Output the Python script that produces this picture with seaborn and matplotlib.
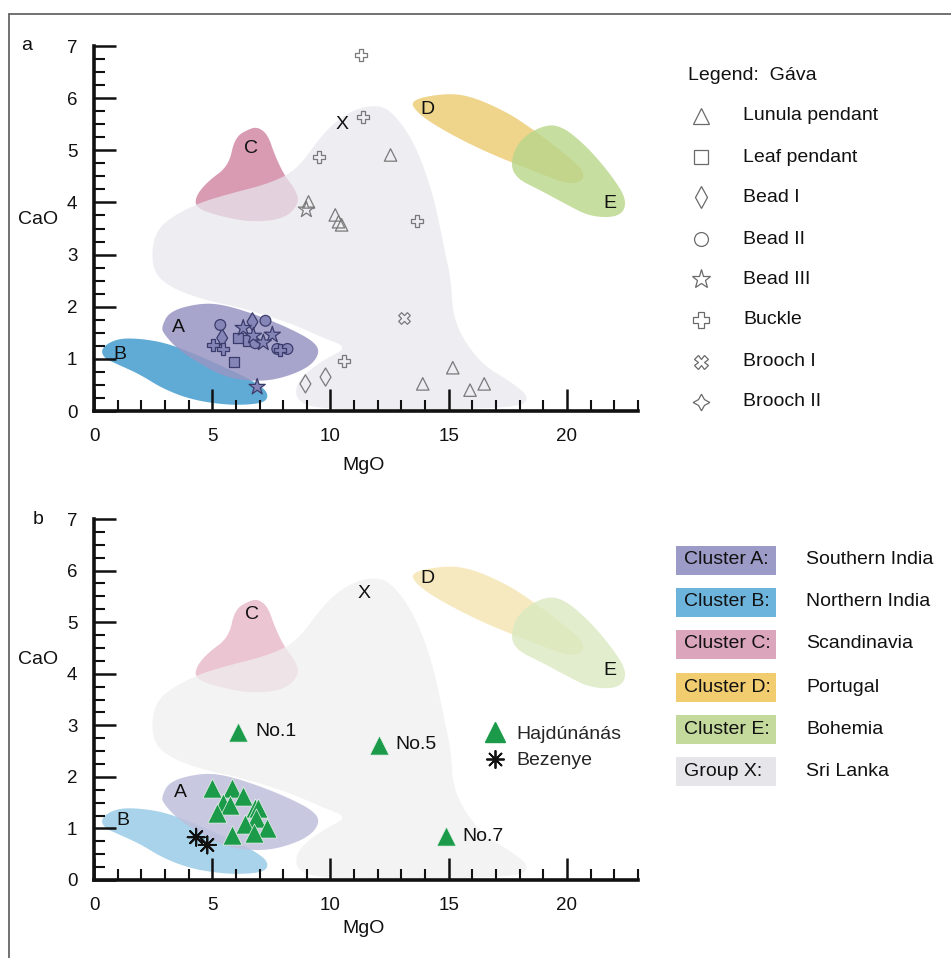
import numpy as np
import pandas as pd
import matplotlib
matplotlib.use("Agg")
import matplotlib.pyplot as plt
import seaborn as sns
from matplotlib.lines import Line2D
from matplotlib.patches import Rectangle
from matplotlib.path import Path
from matplotlib.ticker import MultipleLocator

# ---------------- data ----------------
# region outlines (MgO, CaO)
region_X = [[2.45, 3.0], [2.55, 3.35], [3.0, 3.64], [4.3, 3.97], [5.75, 4.17], [7.4, 4.36], [8.6, 4.63],
            [9.7, 5.34], [10.7, 5.72], [11.7, 5.87], [12.5, 5.8], [13.5, 5.2], [14.3, 4.24], [14.8, 3.15],
            [15.1, 2.5], [15.2, 1.69], [16.3, 0.92], [17.7, 0.54], [18.45, 0.25], [17.9, 0.05],
            [12.0, 0.02], [9.3, 0.05], [8.55, 0.22], [8.55, 0.5], [9.0, 0.75], [9.8, 1.0], [10.75, 1.22],
            [9.6, 1.42], [8.5, 1.65], [6.5, 1.95], [4.5, 2.15], [3.2, 2.38], [2.55, 2.65]]
region_A = [[2.85, 1.61], [3.2, 1.92], [4.5, 2.07], [5.5, 2.04], [6.9, 1.84], [8.3, 1.58], [9.35, 1.32],
            [9.55, 1.1], [9.05, 0.82], [7.75, 0.6], [6.6, 0.57], [5.5, 0.66], [4.5, 0.9], [3.5, 1.2], [2.95, 1.48]]
region_B = [[0.3, 1.21], [0.97, 1.39], [1.95, 1.39], [3.1, 1.3], [4.5, 1.05], [5.9, 0.76], [6.75, 0.57],
            [7.35, 0.37], [7.3, 0.18], [6.6, 0.12], [5.5, 0.12], [4.1, 0.22], [2.9, 0.43], [1.95, 0.7],
            [0.97, 0.9], [0.4, 1.02]]
region_C = [[6.6, 5.42], [5.95, 5.25], [5.7, 4.7], [4.8, 4.4], [4.3, 4.12], [4.3, 3.9], [5.2, 3.75],
            [6.6, 3.62], [8.05, 3.68], [8.7, 3.99], [8.5, 4.26], [8.05, 4.52], [7.65, 4.9], [7.35, 5.3], [6.95, 5.44]]
region_D = [[13.35, 5.97], [14.96, 6.1], [16.06, 6.02], [17.5, 5.72], [18.4, 5.45], [19.6, 5.05],
            [20.9, 4.55], [20.3, 4.3], [18.6, 4.6], [16.5, 4.98], [14.7, 5.4], [13.65, 5.72]]
region_E = [[17.6, 4.72], [17.9, 5.15], [18.8, 5.45], [19.7, 5.5], [20.9, 5.05], [22.0, 4.45],
            [22.55, 4.02], [22.25, 3.72], [21.0, 3.72], [19.9, 3.98], [18.8, 4.25], [17.9, 4.45]]

region_names = ["A", "B", "C", "D", "E", "X"]
label_a_x = [3.56, 1.1, 6.64, 14.1, 21.8, 10.47]
label_a_y = [1.61, 1.09, 5.03, 5.78, 3.97, 5.49]
label_b_x = [3.65, 1.2, 6.68, 14.1, 21.8, 11.4]
label_b_y = [1.69, 1.16, 5.14, 5.85, 4.07, 5.56]

# Gáva artefacts (panel a)
lunula_x = [12.54, 9.07, 10.2, 10.34, 10.47, 13.9, 15.17, 15.9, 16.5]
lunula_y = [4.91, 4.01, 3.76, 3.63, 3.57, 0.52, 0.83, 0.40, 0.52]
leaf_x = [6.1, 6.5, 5.93]
leaf_y = [1.40, 1.35, 0.94]
bead1_x = [6.7, 5.42, 8.94, 9.79]
bead1_y = [1.71, 1.40, 0.52, 0.65]
bead2_x = [5.34, 7.25, 6.82, 7.75, 8.18]
bead2_y = [1.65, 1.73, 1.30, 1.19, 1.19]
bead3_x = [6.31, 6.74, 7.54, 7.16, 6.9, 8.98]
bead3_y = [1.59, 1.44, 1.46, 1.31, 0.46, 3.86]
buckle_x = [5.04, 5.47, 7.88, 11.27, 11.36, 9.53, 13.64, 10.59]
buckle_y = [1.27, 1.19, 1.17, 6.83, 5.64, 4.88, 3.65, 0.96]
brooch1_x = [13.09]
brooch1_y = [1.79]
brooch2_x = []
brooch2_y = []

gava_types = ["Lunula pendant", "Leaf pendant", "Bead I", "Bead II", "Bead III", "Buckle", "Brooch I", "Brooch II"]

# panel b
haj_x = [6.1, 12.03, 14.87, 5.0, 5.85, 6.31, 5.47, 5.76, 5.21, 6.82, 6.95, 6.86, 6.4, 7.33, 6.78, 5.85]
haj_y = [2.87, 2.62, 0.85, 1.78, 1.78, 1.63, 1.49, 1.45, 1.30, 1.40, 1.40, 1.20, 1.09, 1.01, 0.91, 0.87]
haj_labels = ["No.1", "No.5", "No.7"] + [""] * 13
bez_x = [4.32, 4.79]
bez_y = [0.83, 0.68]

cluster_keys = ["Cluster A:", "Cluster B:", "Cluster C:", "Cluster D:", "Cluster E:", "Group X:"]
cluster_origin = ["Southern India", "Northern India", "Scandinavia", "Portugal", "Bohemia", "Sri Lanka"]

# ---------------- styling ----------------
sns.set_theme(style="white")
plt.rcParams["font.family"] = ["Liberation Sans", "DejaVu Sans"]

W, H = 951, 958
fig = plt.figure(figsize=(W / 100, H / 100), dpi=100)

def fx(px):
    return px / W

def fy(py):
    return 1 - py / H

col_a = {"A": "#9896c4", "B": "#5fabd5", "C": "#d99bb2", "D": "#efd48c", "E": "#b9d68a", "X": "#e7e7ee"}
col_b = {"A": "#c0bfdc", "B": "#a8d3ea", "C": "#ecc5d3", "D": "#f7e9bf", "E": "#dae9c0", "X": "#efefef"}
box_col = ["#9c9ac6", "#6cb4dc", "#dba6bb", "#f1cd70", "#c4da9c", "#e6e6ea"]


def smooth(pts, n=4):
    p = np.asarray(pts, dtype=float)
    for _ in range(n):
        nxt = np.roll(p, -1, axis=0)
        q = 0.75 * p + 0.25 * nxt
        r = 0.25 * p + 0.75 * nxt
        p = np.empty((2 * len(q), 2))
        p[0::2] = q
        p[1::2] = r
    return p


shapes = {"A": smooth(region_A), "B": smooth(region_B), "C": smooth(region_C),
          "D": smooth(region_D), "E": smooth(region_E), "X": smooth(region_X)}


def draw_regions(ax, cols, labx, laby):
    order = [("C", 1.0), ("D", 1.0), ("E", 0.8), ("X", 0.72), ("B", 1.0), ("A", 0.85)]
    for k, al in order:
        s = shapes[k]
        ax.fill(s[:, 0], s[:, 1], color=cols[k], alpha=al, lw=0, zorder=1)
    for name, x, y in zip(region_names, labx, laby):
        ax.text(x, y, name, ha="center", va="center", fontsize=14, color="#111111", zorder=6)


def style_axes(ax, xpad, ypad):
    ax.set_xlim(0, 23)
    ax.set_ylim(0, 7)
    ax.set_facecolor("none")
    ax.set_axisbelow(False)
    for s in ["top", "right"]:
        ax.spines[s].set_visible(False)
    for s in ["left", "bottom"]:
        ax.spines[s].set_linewidth(2.6)
        ax.spines[s].set_color("#111111")
        ax.spines[s].set_zorder(4)
    ax.xaxis.set_major_locator(MultipleLocator(5))
    ax.xaxis.set_minor_locator(MultipleLocator(1))
    ax.yaxis.set_major_locator(MultipleLocator(1))
    ax.yaxis.set_minor_locator(MultipleLocator(0.25))
    ax.tick_params(which="major", direction="in", length=16, width=1.8, color="#111111",
                   labelsize=13.5, left=True, bottom=True, labelcolor="#111111")
    ax.tick_params(which="minor", direction="in", length=8, width=1.5, color="#111111",
                   left=True, bottom=True)
    ax.tick_params(axis="x", which="major", pad=xpad)
    ax.tick_params(axis="y", which="major", pad=ypad)
    ax.grid(False)


# ---------------- panel a ----------------
ax_a = fig.add_axes([fx(94), fy(411), fx(23 * 23.65), 365 / H])
draw_regions(ax_a, col_a, label_a_x, label_a_y)

pathA = Path(shapes["A"])
pathB = Path(shapes["B"])
gava = [
    (lunula_x, lunula_y, "^", 80),
    (leaf_x, leaf_y, "s", 55),
    (bead1_x, bead1_y, "d", 85),
    (bead2_x, bead2_y, "o", 60),
    (bead3_x, bead3_y, "*", 150),
    (buckle_x, buckle_y, "P", 75),
    (brooch1_x, brooch1_y, "X", 70),
    (brooch2_x, brooch2_y, (4, 1, 0), 90),
]
for xs, ys, m, s in gava:
    if len(xs) == 0:
        continue
    df = pd.DataFrame({"MgO": xs, "CaO": ys})
    sns.scatterplot(data=df, x="MgO", y="CaO", marker=m, s=s, ax=ax_a, legend=False, zorder=5)
    pc = ax_a.collections[-1]
    pts = np.column_stack([xs, ys])
    inside = pathA.contains_points(pts) | pathB.contains_points(pts)
    pc.set_facecolor([(0.52, 0.52, 0.72, 1.0) if i else (1, 1, 1, 0) for i in inside])
    pc.set_edgecolor(["#3c3c6c" if i else "#7a7a7a" for i in inside])
    pc.set_linewidth(0.9)

style_axes(ax_a, 12, 12)
ax_a.set_xlabel("MgO", fontsize=14, color="#111111")
ax_a.set_ylabel("CaO", fontsize=14, rotation=0, color="#111111")
ax_a.xaxis.set_label_coords(0.496, -0.125)
ax_a.yaxis.set_label_coords(-0.103, 0.5)

# panel a legend
fig.text(fx(688), fy(75), "Legend:  Gáva", fontsize=14, va="center", ha="left", color="#111111")
leg_markers = ["^", "s", "d", "o", "*", "P", "X", (4, 1, 0)]
leg_ms = [11, 10, 11, 10, 14, 11, 10, 12]
leg_rows = [116, 157, 197, 239, 279, 320, 362, 402]
for t, m, ms, ry in zip(gava_types, leg_markers, leg_ms, leg_rows):
    fig.add_artist(Line2D([fx(701)], [fy(ry)], marker=m, markersize=ms, markerfacecolor="none",
                          markeredgecolor="#6a6a6a", markeredgewidth=0.9, linestyle="none",
                          transform=fig.transFigure))
    fig.text(fx(743), fy(ry), t, fontsize=14, va="center", ha="left", color="#111111")

# ---------------- panel b ----------------
ax_b = fig.add_axes([fx(94), fy(880), fx(23 * 23.65), 361 / H])
draw_regions(ax_b, col_b, label_b_x, label_b_y)

green = "#1b9a4a"
dfh = pd.DataFrame({"MgO": haj_x, "CaO": haj_y, "label": haj_labels})
sns.scatterplot(data=dfh, x="MgO", y="CaO", marker="^", s=190, color=green, ax=ax_b, legend=False, zorder=5)
pc = ax_b.collections[-1]
pc.set_edgecolor("#e8f3ea")
pc.set_linewidth(0.5)
for _, r in dfh.iterrows():
    if r["label"]:
        ax_b.annotate(r["label"], (r["MgO"], r["CaO"]), xytext=(12, 0), textcoords="offset points",
                      ha="left", va="center", fontsize=14, color="#111111", zorder=6)

dfz = pd.DataFrame({"MgO": bez_x, "CaO": bez_y})
sns.scatterplot(data=dfz, x="MgO", y="CaO", marker=(8, 2, 0), s=150, ax=ax_b, legend=False, zorder=5)
pc = ax_b.collections[-1]
pc.set_facecolor("none")
pc.set_edgecolor("#111111")
pc.set_linewidth(1.4)

style_axes(ax_b, 12, 12)
ax_b.set_xlabel("MgO", fontsize=14, color="#111111")
ax_b.set_ylabel("CaO", fontsize=14, rotation=0, color="#111111")
ax_b.xaxis.set_label_coords(0.496, -0.11)
ax_b.yaxis.set_label_coords(-0.103, 0.587)

handles = [Line2D([], [], marker="^", color=green, markersize=14, linestyle="none"),
           Line2D([], [], marker=(8, 2, 0), color="#111111", markersize=13, markeredgewidth=1.3, linestyle="none")]
ax_b.legend(handles, ["Hajdúnánás", "Bezenye"], loc="upper left", bbox_to_anchor=(0.72, 0.428),
            frameon=False, fontsize=14, handlelength=1.0, handletextpad=0.6, labelspacing=0.45,
            borderpad=0, borderaxespad=0)

# panel b cluster legend
box_rows = [560, 602, 644, 687, 729, 771]
for key, org, c, ry in zip(cluster_keys, cluster_origin, box_col, box_rows):
    fig.add_artist(Rectangle((fx(676), fy(ry + 14.5)), fx(100), 29 / H, transform=fig.transFigure,
                             facecolor=c, edgecolor="none"))
    fig.text(fx(684), fy(ry), key, fontsize=14, va="center", ha="left", color="#111111")
    fig.text(fx(806), fy(ry), org, fontsize=14, va="center", ha="left", color="#111111")

# panel letters
fig.text(fx(27), fy(46), "a", fontsize=14, va="center", ha="center", color="#111111")
fig.text(fx(38), fy(520), "b", fontsize=14, va="center", ha="center", color="#111111")

# outer frame (top and left)
fig.add_artist(Line2D([fx(9), 1], [fy(14), fy(14)], color="#666666", lw=1.3, transform=fig.transFigure))
fig.add_artist(Line2D([fx(9), fx(9)], [0, fy(14)], color="#666666", lw=1.3, transform=fig.transFigure))

fig.savefig("out.png", dpi=100)
